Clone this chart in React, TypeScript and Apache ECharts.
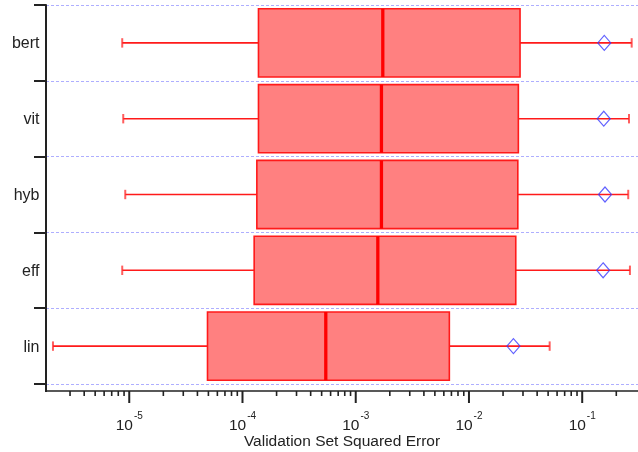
import React, { useEffect, useRef } from "react";
import * as echarts from "echarts";

// Models, listed bottom to top
const CATEGORIES = ["lin", "eff", "hyb", "vit", "bert"];
// Box-and-whisker statistics of validation squared error
const WHISKER_LOW = [2.12e-6, 8.67e-6, 9.22e-6, 8.85e-6, 8.67e-6];
const Q1 = [4.91e-5, 1.268e-4, 1.339e-4, 1.384e-4, 1.384e-4];
const MEDIAN = [5.44e-4, 1.567e-3, 1.687e-3, 1.687e-3, 1.734e-3];
const Q3 = [6.71e-3, 0.0259, 0.027, 0.0273, 0.02825];
const WHISKER_HIGH = [0.0516, 0.264, 0.255, 0.259, 0.2735];
const MEAN = [0.0247, 0.153, 0.159, 0.155, 0.1567];

const X_TITLE = "Validation Set Squared Error";

// Log axis range and tick decades
const X_MIN = 1.84e-6;
const X_MAX = 0.311;
const TICK_DECADES = [-6, -5, -4, -3, -2, -1];
const TICK_FIRST = 3e-6;
const TICK_LAST = 0.2;

const FONT = "'Liberation Sans', Arial, sans-serif";
const INK = "#222222";
const X_OFFSET = 7;
const GRID_LEFT = 46;
const GRID_TOP = 5;
const GRID_BOTTOM = 68;

function buildTicks(): number[][] {
  const out: number[][] = [];
  for (const e of TICK_DECADES) {
    for (let k = 1; k <= 9; k++) {
      const v = k * Math.pow(10, e);
      if (v >= TICK_FIRST * 0.999 && v <= TICK_LAST * 1.001) out.push([v, 0, k === 1 ? 1 : 0]);
    }
  }
  return out;
}

export default function App() {
  const ref = useRef<HTMLDivElement>(null);

  useEffect(() => {
    if (!ref.current) return;
    const chart = echarts.init(ref.current, null, { renderer: "svg" });

    const boxData = CATEGORIES.map((_, i) => [i, WHISKER_LOW[i], Q1[i], MEDIAN[i], Q3[i], WHISKER_HIGH[i]]);
    const meanData = CATEGORIES.map((_, i) => [MEAN[i], i]);

    const option: any = {
      animation: false,
      grid: {
        left: GRID_LEFT,
        right: 0,
        top: GRID_TOP,
        bottom: GRID_BOTTOM,
        containLabel: false,
        outerBoundsMode: "none",
      },
      graphic: [
        {
          type: "text",
          x: (GRID_LEFT + 638) / 2,
          y: 440,
          style: {
            text: X_TITLE,
            fontFamily: FONT,
            fontSize: 15.5,
            fill: INK,
            textAlign: "center",
            textVerticalAlign: "middle",
          },
        },
      ],
      xAxis: {
        type: "log",
        logBase: 10,
        min: X_MIN,
        max: X_MAX,
        offset: X_OFFSET,
        axisLine: { show: true, onZero: false, lineStyle: { color: INK, width: 1.7 } },
        axisTick: { show: false },
        splitLine: { show: false },
        minorTick: { show: false },
        axisLabel: {
          margin: 19,
          showMinLabel: false,
          showMaxLabel: false,
          formatter: (v: number) => {
            const e = Math.log10(v);
            const r = Math.round(e);
            if (Math.abs(e - r) > 1e-6) return "";
            return `{b|10}{s|${r}}`;
          },
          rich: {
            b: { fontFamily: FONT, fontSize: 15.5, color: INK, verticalAlign: "bottom", lineHeight: 22 },
            s: { fontFamily: FONT, fontSize: 10, color: INK, verticalAlign: "top", lineHeight: 13, padding: [0, 0, 0, 1] },
          },
        },
      },
      yAxis: {
        type: "category",
        data: CATEGORIES,
        axisLine: { show: true, lineStyle: { color: INK, width: 2 } },
        axisTick: { show: true, length: 12, lineStyle: { color: INK, width: 2 } },
        axisLabel: { fontFamily: FONT, fontSize: 16, color: INK, margin: 6.5 },
        splitLine: { show: true, lineStyle: { color: "#aeaeff", type: [3, 2], width: 1 } },
      },
      series: [
        {
          type: "custom",
          name: "box",
          coordinateSystem: "cartesian2d",
          encode: { x: [1, 2, 3, 4, 5], y: 0 },
          data: boxData,
          z: 2,
          renderItem: (params: any, api: any) => {
            const c = api.value(0);
            const lo = api.coord([api.value(1), c]);
            const q1 = api.coord([api.value(2), c]);
            const md = api.coord([api.value(3), c]);
            const q3 = api.coord([api.value(4), c]);
            const hi = api.coord([api.value(5), c]);
            const band = api.size([1, 1])[1];
            const h = band * 0.9;
            const cy = q1[1];
            const capH = 4.7;
            const whisker = { stroke: "#ff1a1a", lineWidth: 1.6 };
            const cap = { stroke: "rgba(255,40,40,0.75)", lineWidth: 2 };
            return {
              type: "group",
              children: [
                { type: "line", shape: { x1: lo[0], y1: cy, x2: q1[0], y2: cy }, style: whisker },
                { type: "line", shape: { x1: q3[0], y1: cy, x2: hi[0], y2: cy }, style: whisker },
                { type: "line", shape: { x1: lo[0], y1: cy - capH, x2: lo[0], y2: cy + capH }, style: cap },
                { type: "line", shape: { x1: hi[0], y1: cy - capH, x2: hi[0], y2: cy + capH }, style: cap },
                {
                  type: "rect",
                  shape: { x: q1[0], y: cy - h / 2, width: q3[0] - q1[0], height: h },
                  style: { fill: "#ff8080", stroke: "#ff1a1a", lineWidth: 1.6 },
                },
                {
                  type: "line",
                  shape: { x1: md[0], y1: cy - h / 2, x2: md[0], y2: cy + h / 2 },
                  style: { stroke: "#ff0000", lineWidth: 3.3 },
                },
              ],
            };
          },
        },
        {
          type: "scatter",
          name: "mean",
          data: meanData,
          symbol: "diamond",
          symbolSize: [13, 15],
          itemStyle: { color: "rgba(0,0,0,0)", borderColor: "#3a3aff", borderWidth: 1.2 },
          z: 3,
        },
        {
          type: "custom",
          name: "ticks",
          coordinateSystem: "cartesian2d",
          encode: { x: 0, y: 1 },
          data: buildTicks(),
          clip: false,
          silent: true,
          z: 4,
          renderItem: (params: any, api: any) => {
            const p = api.coord([api.value(0), 0]);
            const cs = params.coordSys;
            const y0 = cs.y + cs.height + X_OFFSET;
            const len = api.value(2) ? 12 : 5;
            const children: any[] = [
              {
                type: "line",
                shape: { x1: p[0], y1: y0, x2: p[0], y2: y0 + len },
                style: { stroke: INK, lineWidth: api.value(2) ? 2 : 1.6 },
              },
            ];
            // the first tick also carries the y-axis line down to the x-axis
            if (params.dataIndex === 0) {
              children.push({
                type: "line",
                shape: { x1: cs.x, y1: cs.y + cs.height - 1, x2: cs.x, y2: y0 + 1 },
                style: { stroke: INK, lineWidth: 2 },
              });
            }
            return { type: "group", children };
          },
        },
      ],
    };

    chart.setOption(option);
    return () => chart.dispose();
  }, []);

  return <div ref={ref} style={{ position: "fixed", left: 0, top: 0, width: 638, height: 452 }} />;
}
